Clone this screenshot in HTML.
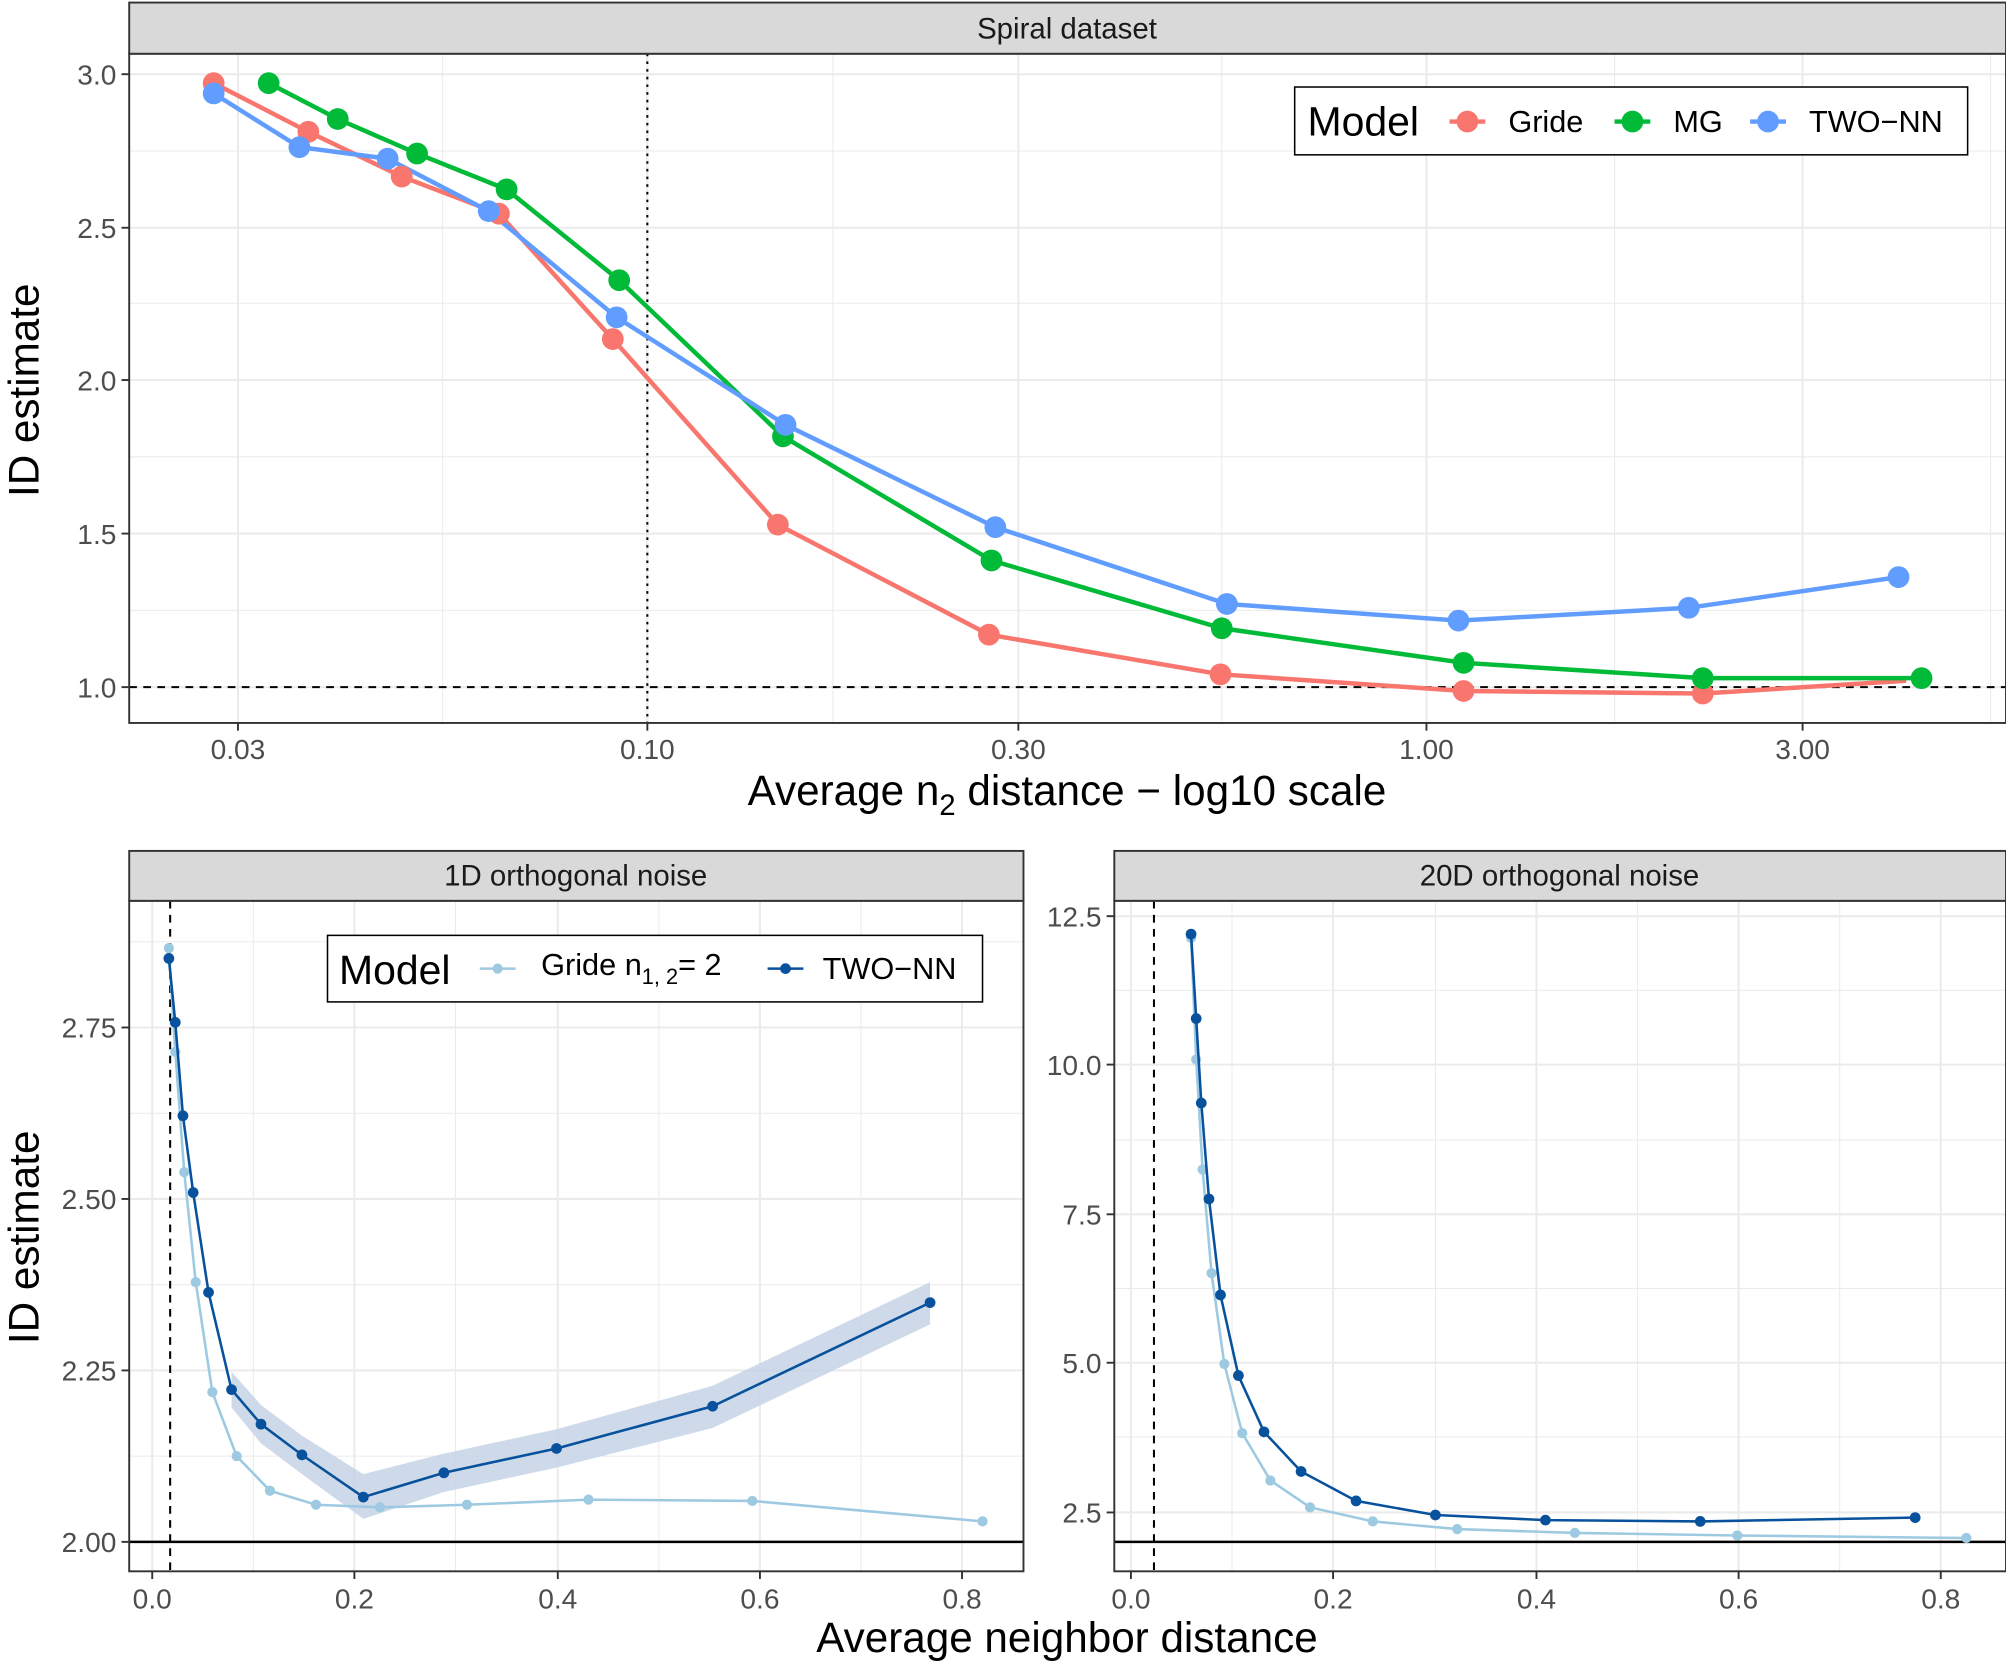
<!DOCTYPE html>
<html><head><meta charset="utf-8"><style>html,body{margin:0;padding:0;background:#fff}svg{display:block}</style></head>
<body>
<svg width="2006" height="1666" viewBox="0 0 1568 1302" preserveAspectRatio="none" xmlns="http://www.w3.org/2000/svg" font-family="Liberation Sans, Arial, sans-serif">
<rect width="1568" height="1302" fill="#fff"/>
<!-- TOP PANEL -->
<g stroke="#ebebeb" stroke-width="0.8">
<line x1="346" y1="42" x2="346" y2="565"/><line x1="651" y1="42" x2="651" y2="565"/><line x1="955" y1="42" x2="955" y2="565"/><line x1="1262" y1="42" x2="1262" y2="565"/><line x1="1556" y1="42" x2="1556" y2="565"/>
<line x1="101" y1="118" x2="1568" y2="118"/><line x1="101" y1="237" x2="1568" y2="237"/><line x1="101" y1="357" x2="1568" y2="357"/><line x1="101" y1="477" x2="1568" y2="477"/>
</g>
<g stroke="#ebebeb" stroke-width="1.6">
<line x1="186" y1="42" x2="186" y2="565"/><line x1="506" y1="42" x2="506" y2="565"/><line x1="796" y1="42" x2="796" y2="565"/><line x1="1115" y1="42" x2="1115" y2="565"/><line x1="1409" y1="42" x2="1409" y2="565"/>
<line x1="101" y1="58" x2="1568" y2="58"/><line x1="101" y1="178" x2="1568" y2="178"/><line x1="101" y1="297" x2="1568" y2="297"/><line x1="101" y1="417" x2="1568" y2="417"/><line x1="101" y1="537" x2="1568" y2="537"/>
</g>
<line x1="101" y1="537" x2="1568" y2="537" stroke="#000" stroke-width="1.6" stroke-dasharray="6,5"/>
<line x1="506" y1="42" x2="506" y2="565" stroke="#000" stroke-width="1.6" stroke-dasharray="2,4"/>
<g fill="none" stroke-width="3.5">
<polyline stroke="#F8766D" points="167,65 241,103 314,138 390,167 479,265 608,410 773,496 954,527 1144,540 1331,542 1490,532"/>
<polyline stroke="#00BA38" points="210,65 264,93 326,120 396,148 484,219 612,341 775,438 955,491 1144,518 1331,530 1502,530"/>
<polyline stroke="#619CFF" points="167,73 234,115 303,124 382,165 482,248 614,332 778,412 959,472 1140,485 1320,475 1484,451"/>
</g>
<g fill="#F8766D"><circle cx="167" cy="65" r="8.5"/><circle cx="241" cy="103" r="8.5"/><circle cx="314" cy="138" r="8.5"/><circle cx="390" cy="167" r="8.5"/><circle cx="479" cy="265" r="8.5"/><circle cx="608" cy="410" r="8.5"/><circle cx="773" cy="496" r="8.5"/><circle cx="954" cy="527" r="8.5"/><circle cx="1144" cy="540" r="8.5"/><circle cx="1331" cy="542" r="8.5"/></g>
<g fill="#00BA38"><circle cx="210" cy="65" r="8.5"/><circle cx="264" cy="93" r="8.5"/><circle cx="326" cy="120" r="8.5"/><circle cx="396" cy="148" r="8.5"/><circle cx="484" cy="219" r="8.5"/><circle cx="612" cy="341" r="8.5"/><circle cx="775" cy="438" r="8.5"/><circle cx="955" cy="491" r="8.5"/><circle cx="1144" cy="518" r="8.5"/><circle cx="1331" cy="530" r="8.5"/><circle cx="1502" cy="530" r="8.5"/></g>
<g fill="#619CFF"><circle cx="167" cy="73" r="8.5"/><circle cx="234" cy="115" r="8.5"/><circle cx="303" cy="124" r="8.5"/><circle cx="382" cy="165" r="8.5"/><circle cx="482" cy="248" r="8.5"/><circle cx="614" cy="332" r="8.5"/><circle cx="778" cy="412" r="8.5"/><circle cx="959" cy="472" r="8.5"/><circle cx="1140" cy="485" r="8.5"/><circle cx="1320" cy="475" r="8.5"/><circle cx="1484" cy="451" r="8.5"/></g>
<rect x="101" y="42" width="1467" height="523" fill="none" stroke="#333" stroke-width="1.5"/>
<rect x="101" y="2" width="1467" height="40" fill="#d9d9d9" stroke="#333" stroke-width="1.5"/>
<text x="834" y="30" font-size="23" text-anchor="middle" fill="#1a1a1a">Spiral dataset</text>
<!-- legend top -->
<rect x="1012" y="68" width="526" height="53" fill="#fff" stroke="#000" stroke-width="1.2"/>
<text x="1022" y="106" font-size="32">Model</text>
<line x1="1133" y1="95" x2="1161" y2="95" stroke="#F8766D" stroke-width="3.5"/><circle cx="1147" cy="95" r="8.5" fill="#F8766D"/>
<text x="1179" y="103" font-size="24">Gride</text>
<line x1="1262" y1="95" x2="1290" y2="95" stroke="#00BA38" stroke-width="3.5"/><circle cx="1276" cy="95" r="8.5" fill="#00BA38"/>
<text x="1308" y="103" font-size="24">MG</text>
<line x1="1368" y1="95" x2="1396" y2="95" stroke="#619CFF" stroke-width="3.5"/><circle cx="1382" cy="95" r="8.5" fill="#619CFF"/>
<text x="1414" y="103" font-size="24">TWO−NN</text>
<!-- top ticks -->
<g stroke="#333" stroke-width="1.5">
<line x1="95" y1="58" x2="101" y2="58"/><line x1="95" y1="178" x2="101" y2="178"/><line x1="95" y1="297" x2="101" y2="297"/><line x1="95" y1="417" x2="101" y2="417"/><line x1="95" y1="537" x2="101" y2="537"/>
<line x1="186" y1="565" x2="186" y2="571"/><line x1="506" y1="565" x2="506" y2="571"/><line x1="796" y1="565" x2="796" y2="571"/><line x1="1115" y1="565" x2="1115" y2="571"/><line x1="1409" y1="565" x2="1409" y2="571"/>
</g>
<g font-size="22" fill="#4d4d4d" text-anchor="end">
<text x="91" y="66">3.0</text><text x="91" y="186">2.5</text><text x="91" y="305">2.0</text><text x="91" y="425">1.5</text><text x="91" y="545">1.0</text>
</g>
<g font-size="22" fill="#4d4d4d" text-anchor="middle">
<text x="186" y="593">0.03</text><text x="506" y="593">0.10</text><text x="796" y="593">0.30</text><text x="1115" y="593">1.00</text><text x="1409" y="593">3.00</text>
</g>
<text x="834" y="629" font-size="33" text-anchor="middle">Average n<tspan font-size="23" dy="8">2</tspan><tspan dy="-8"> distance − log10 scale</tspan></text>
<text transform="translate(30,305) rotate(-90)" font-size="33" text-anchor="middle">ID estimate</text>
<text transform="translate(30,967) rotate(-90)" font-size="33" text-anchor="middle">ID estimate</text>
<text x="834" y="1291" font-size="33" text-anchor="middle">Average neighbor distance</text>

<!-- BOTTOM LEFT -->
<g stroke="#ebebeb" stroke-width="0.8">
<line x1="198" y1="704" x2="198" y2="1228"/><line x1="356" y1="704" x2="356" y2="1228"/><line x1="515" y1="704" x2="515" y2="1228"/><line x1="673" y1="704" x2="673" y2="1228"/>
<line x1="101" y1="736" x2="800" y2="736"/><line x1="101" y1="870" x2="800" y2="870"/><line x1="101" y1="1004" x2="800" y2="1004"/><line x1="101" y1="1138" x2="800" y2="1138"/>
</g>
<g stroke="#ebebeb" stroke-width="1.6">
<line x1="119" y1="704" x2="119" y2="1228"/><line x1="277" y1="704" x2="277" y2="1228"/><line x1="436" y1="704" x2="436" y2="1228"/><line x1="594" y1="704" x2="594" y2="1228"/><line x1="752" y1="704" x2="752" y2="1228"/>
<line x1="101" y1="803" x2="800" y2="803"/><line x1="101" y1="937" x2="800" y2="937"/><line x1="101" y1="1071" x2="800" y2="1071"/>
</g>
<line x1="101" y1="1205" x2="800" y2="1205" stroke="#000" stroke-width="2"/>
<line x1="133" y1="704" x2="133" y2="1228" stroke="#000" stroke-width="1.6" stroke-dasharray="6,5"/>
<polygon fill="#c6d4e6" opacity="0.85" points="181,1072 204,1098 236,1122 284,1152 347,1136 435,1117 557,1083 727,1002 727,1035 557,1116 435,1147 347,1166 284,1187 236,1152 204,1128 181,1100"/>
<polyline fill="none" stroke="#9ECAE1" stroke-width="2" points="132,741 137,822 144,916 153,1002 166,1088 185,1138 211,1165 247,1176 297,1178 365,1176 460,1172 588,1173 768,1189"/>
<g fill="#9ECAE1"><circle cx="132" cy="741" r="4"/><circle cx="137" cy="822" r="4"/><circle cx="144" cy="916" r="4"/><circle cx="153" cy="1002" r="4"/><circle cx="166" cy="1088" r="4"/><circle cx="185" cy="1138" r="4"/><circle cx="211" cy="1165" r="4"/><circle cx="247" cy="1176" r="4"/><circle cx="297" cy="1178" r="4"/><circle cx="365" cy="1176" r="4"/><circle cx="460" cy="1172" r="4"/><circle cx="588" cy="1173" r="4"/><circle cx="768" cy="1189" r="4"/></g>
<polyline fill="none" stroke="#08519C" stroke-width="2" points="132,749 137,799 143,872 151,932 163,1010 181,1086 204,1113 236,1137 284,1170 347,1151 435,1132 557,1099 727,1018"/>
<g fill="#08519C"><circle cx="132" cy="749" r="4.2"/><circle cx="137" cy="799" r="4.2"/><circle cx="143" cy="872" r="4.2"/><circle cx="151" cy="932" r="4.2"/><circle cx="163" cy="1010" r="4.2"/><circle cx="181" cy="1086" r="4.2"/><circle cx="204" cy="1113" r="4.2"/><circle cx="236" cy="1137" r="4.2"/><circle cx="284" cy="1170" r="4.2"/><circle cx="347" cy="1151" r="4.2"/><circle cx="435" cy="1132" r="4.2"/><circle cx="557" cy="1099" r="4.2"/><circle cx="727" cy="1018" r="4.2"/></g>
<rect x="101" y="704" width="699" height="524" fill="none" stroke="#333" stroke-width="1.5"/>
<rect x="101" y="665" width="699" height="39" fill="#d9d9d9" stroke="#333" stroke-width="1.5"/>
<text x="450" y="692" font-size="23" text-anchor="middle" fill="#1a1a1a">1D orthogonal noise</text>
<!-- legend bottom -->
<rect x="256" y="731" width="512" height="52" fill="#fff" stroke="#000" stroke-width="1.2"/>
<text x="265" y="769" font-size="32">Model</text>
<line x1="375" y1="757" x2="403" y2="757" stroke="#9ECAE1" stroke-width="2"/><circle cx="389" cy="757" r="4" fill="#9ECAE1"/>
<text x="423" y="762" font-size="24">Gride n<tspan font-size="17" dy="7">1, 2</tspan><tspan dy="-7">= 2</tspan></text>
<line x1="600" y1="757" x2="628" y2="757" stroke="#08519C" stroke-width="2"/><circle cx="614" cy="757" r="4.2" fill="#08519C"/>
<text x="643" y="765" font-size="24">TWO−NN</text>
<g stroke="#333" stroke-width="1.5">
<line x1="95" y1="803" x2="101" y2="803"/><line x1="95" y1="937" x2="101" y2="937"/><line x1="95" y1="1071" x2="101" y2="1071"/><line x1="95" y1="1205" x2="101" y2="1205"/>
<line x1="119" y1="1228" x2="119" y2="1234"/><line x1="277" y1="1228" x2="277" y2="1234"/><line x1="436" y1="1228" x2="436" y2="1234"/><line x1="594" y1="1228" x2="594" y2="1234"/><line x1="752" y1="1228" x2="752" y2="1234"/>
</g>
<g font-size="22" fill="#4d4d4d" text-anchor="end">
<text x="91" y="811">2.75</text><text x="91" y="945">2.50</text><text x="91" y="1079">2.25</text><text x="91" y="1213">2.00</text>
</g>
<g font-size="22" fill="#4d4d4d" text-anchor="middle">
<text x="119" y="1257">0.0</text><text x="277" y="1257">0.2</text><text x="436" y="1257">0.4</text><text x="594" y="1257">0.6</text><text x="752" y="1257">0.8</text>
</g>

<!-- BOTTOM RIGHT -->
<g stroke="#ebebeb" stroke-width="0.8">
<line x1="963" y1="704" x2="963" y2="1228"/><line x1="1122" y1="704" x2="1122" y2="1228"/><line x1="1280" y1="704" x2="1280" y2="1228"/><line x1="1438" y1="704" x2="1438" y2="1228"/>
<line x1="871" y1="1123" x2="1568" y2="1123"/><line x1="871" y1="1007" x2="1568" y2="1007"/><line x1="871" y1="891" x2="1568" y2="891"/><line x1="871" y1="774" x2="1568" y2="774"/>
</g>
<g stroke="#ebebeb" stroke-width="1.6">
<line x1="884" y1="704" x2="884" y2="1228"/><line x1="1042" y1="704" x2="1042" y2="1228"/><line x1="1201" y1="704" x2="1201" y2="1228"/><line x1="1359" y1="704" x2="1359" y2="1228"/><line x1="1517" y1="704" x2="1517" y2="1228"/>
<line x1="871" y1="1182" x2="1568" y2="1182"/><line x1="871" y1="1065" x2="1568" y2="1065"/><line x1="871" y1="949" x2="1568" y2="949"/><line x1="871" y1="832" x2="1568" y2="832"/><line x1="871" y1="716" x2="1568" y2="716"/>
</g>
<line x1="871" y1="1205" x2="1568" y2="1205" stroke="#000" stroke-width="2"/>
<line x1="902" y1="704" x2="902" y2="1228" stroke="#000" stroke-width="1.6" stroke-dasharray="6,5"/>
<polyline fill="none" stroke="#9ECAE1" stroke-width="2" points="931,733 935,828 940,914 947,995 957,1066 971,1120 993,1157 1024,1178 1073,1189 1139,1195 1231,1198 1358,1200 1537,1202"/>
<g fill="#9ECAE1"><circle cx="931" cy="733" r="4"/><circle cx="935" cy="828" r="4"/><circle cx="940" cy="914" r="4"/><circle cx="947" cy="995" r="4"/><circle cx="957" cy="1066" r="4"/><circle cx="971" cy="1120" r="4"/><circle cx="993" cy="1157" r="4"/><circle cx="1024" cy="1178" r="4"/><circle cx="1073" cy="1189" r="4"/><circle cx="1139" cy="1195" r="4"/><circle cx="1231" cy="1198" r="4"/><circle cx="1358" cy="1200" r="4"/><circle cx="1537" cy="1202" r="4"/></g>
<polyline fill="none" stroke="#08519C" stroke-width="2" points="931,730 935,796 939,862 945,937 954,1012 968,1075 988,1119 1017,1150 1060,1173 1122,1184 1208,1188 1329,1189 1497,1186"/>
<g fill="#08519C"><circle cx="931" cy="730" r="4.2"/><circle cx="935" cy="796" r="4.2"/><circle cx="939" cy="862" r="4.2"/><circle cx="945" cy="937" r="4.2"/><circle cx="954" cy="1012" r="4.2"/><circle cx="968" cy="1075" r="4.2"/><circle cx="988" cy="1119" r="4.2"/><circle cx="1017" cy="1150" r="4.2"/><circle cx="1060" cy="1173" r="4.2"/><circle cx="1122" cy="1184" r="4.2"/><circle cx="1208" cy="1188" r="4.2"/><circle cx="1329" cy="1189" r="4.2"/><circle cx="1497" cy="1186" r="4.2"/></g>
<rect x="871" y="704" width="697" height="524" fill="none" stroke="#333" stroke-width="1.5"/>
<rect x="871" y="665" width="697" height="39" fill="#d9d9d9" stroke="#333" stroke-width="1.5"/>
<text x="1219" y="692" font-size="23" text-anchor="middle" fill="#1a1a1a">20D orthogonal noise</text>
<g stroke="#333" stroke-width="1.5">
<line x1="865" y1="716" x2="871" y2="716"/><line x1="865" y1="832" x2="871" y2="832"/><line x1="865" y1="949" x2="871" y2="949"/><line x1="865" y1="1065" x2="871" y2="1065"/><line x1="865" y1="1182" x2="871" y2="1182"/>
<line x1="884" y1="1228" x2="884" y2="1234"/><line x1="1042" y1="1228" x2="1042" y2="1234"/><line x1="1201" y1="1228" x2="1201" y2="1234"/><line x1="1359" y1="1228" x2="1359" y2="1234"/><line x1="1517" y1="1228" x2="1517" y2="1234"/>
</g>
<g font-size="22" fill="#4d4d4d" text-anchor="end">
<text x="861" y="724">12.5</text><text x="861" y="840">10.0</text><text x="861" y="957">7.5</text><text x="861" y="1073">5.0</text><text x="861" y="1190">2.5</text>
</g>
<g font-size="22" fill="#4d4d4d" text-anchor="middle">
<text x="884" y="1257">0.0</text><text x="1042" y="1257">0.2</text><text x="1201" y="1257">0.4</text><text x="1359" y="1257">0.6</text><text x="1517" y="1257">0.8</text>
</g>
</svg>
</body></html>
